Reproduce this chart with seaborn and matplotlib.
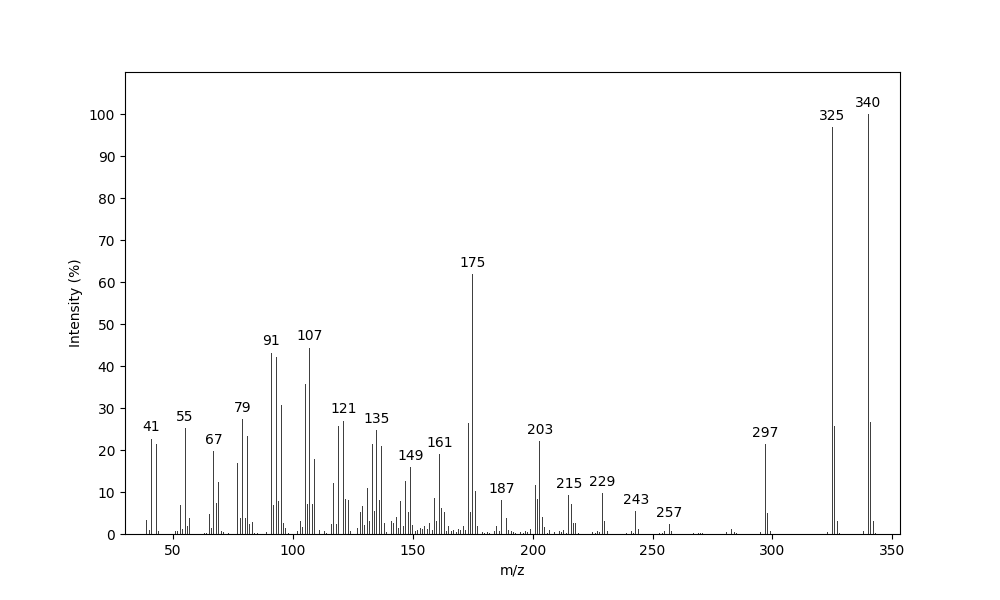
import seaborn as sns
import matplotlib.pyplot as plt
import pandas as pd

mz = [39, 40, 41, 42, 43, 44, 51, 52, 53, 54, 55, 56, 57, 63, 64, 65, 66, 67, 68, 69, 70, 71, 73,
      77, 78, 79, 80, 81, 82, 83, 84, 85, 89, 91, 92, 93, 94, 95, 96, 97, 98,
      102, 103, 104, 105, 106, 107, 108, 109, 110, 111, 113, 114, 115, 116, 117, 118, 119, 120,
      121, 122, 123, 124, 127, 128, 129, 130, 131, 132, 133, 134, 135, 136, 137, 138, 139,
      141, 142, 143, 144, 145, 146, 147, 148, 149, 150, 151, 152, 153, 154, 155, 156, 157, 158,
      159, 160, 161, 162, 163, 164, 165, 166, 167, 168, 169, 170, 171, 172, 173, 174, 175, 176,
      177, 178, 179, 180, 181, 182, 183, 184, 185, 186, 187, 188, 189, 190, 191, 192, 193,
      195, 196, 197, 198, 199, 201, 202, 203, 204, 205, 206, 207, 209, 211, 212, 213, 214,
      215, 216, 217, 218, 219, 225, 226, 227, 228, 229, 230, 231, 239, 241, 242, 243, 244,
      253, 254, 255, 256, 257, 258, 267, 269, 270, 271, 281, 283, 284, 285, 295, 297, 298, 299,
      323, 325, 326, 327, 328, 338, 340, 341, 342, 343]
intensity = [3.3, 1.0, 22.7, 2.1, 21.5, 0.8, 0.8, 0.8, 6.9, 1.2, 25.3, 2.0, 3.8, 0.3, 0.3, 4.8,
             1.4, 19.8, 7.4, 12.4, 0.8, 0.5, 0.3,
             17.0, 3.8, 27.4, 3.8, 23.4, 2.4, 2.9, 0.3, 0.3, 0.5, 43.2, 6.9, 42.2, 7.9, 30.8, 2.7,
             1.4, 0.2,
             0.7, 3.1, 1.7, 35.8, 7.2, 44.4, 7.2, 17.9, 1.2, 1.0, 0.6, 0.3, 6.2, 2.4, 12.2, 2.4,
             25.8, 8.1,
             27.0, 8.4, 8.1, 0.7, 1.4, 5.3, 6.7, 2.1, 11.0, 3.1, 21.5, 5.5, 24.8, 8.1, 21.0, 2.6,
             0.5,
             3.1, 2.7, 4.1, 1.4, 7.9, 1.9, 12.6, 5.3, 16.0, 2.1, 0.7, 1.0, 1.4, 1.2, 1.9, 1.2, 2.6,
             1.0,
             8.6, 3.1, 19.1, 6.2, 5.3, 0.7, 1.9, 0.7, 1.0, 0.5, 1.2, 1.0, 1.9, 1.0, 26.5, 5.3, 61.8,
             10.3,
             1.9, 0.7, 0.5, 0.2, 0.5, 0.2, 1.2, 0.7, 1.9, 0.7, 8.1, 1.7, 3.8, 1.0, 0.7, 0.5, 0.2,
             0.5, 0.2, 0.7, 0.5, 1.2, 11.7, 8.4, 22.2, 4.1, 1.7, 0.2, 1.0, 0.5, 0.7, 0.5, 1.0, 0.2,
             9.3, 7.2, 2.6, 2.6, 0.2, 0.5, 0.2, 0.7, 0.5, 9.8, 3.1, 0.7, 0.2, 0.7, 0.2, 5.5, 1.2,
             0.2, 0.2, 0.7, 0.5, 2.4, 0.7, 0.2, 0.2, 0.2, 0.2, 0.5, 1.2, 0.5, 0.2, 0.5, 21.5, 5.0,
             0.7,
             0.5, 96.8, 25.8, 3.1, 0.2, 0.7, 100.0, 26.7, 3.1, 0.2]
labeled = [41, 55, 67, 79, 91, 107, 121, 135, 149, 161, 175, 187, 203, 215, 229, 243, 257,
           297, 325, 340]

df = pd.DataFrame({'mz': mz, 'intensity': intensity})

# keep matplotlib's default look (black text, full frame), seaborn palette only
sns.set_palette(['#404040'])

fig, ax = plt.subplots(figsize=(10, 6), dpi=100)
ax.bar(df['mz'], df['intensity'], width=0.4, linewidth=0)

lookup = dict(zip(mz, intensity))
for m in labeled:
    ax.annotate(str(m), (m, lookup[m]), xytext=(0, 3), textcoords='offset points',
                ha='center', va='bottom', fontsize=10, color='black')

ax.set_xlim(29.9, 353.2)
ax.set_ylim(0, 110)
ax.set_yticks(range(0, 101, 10))
ax.set_xticks(range(50, 351, 50))
ax.set_xlabel('m/z')
ax.set_ylabel('Intensity (%)')

plt.savefig('out.png')
